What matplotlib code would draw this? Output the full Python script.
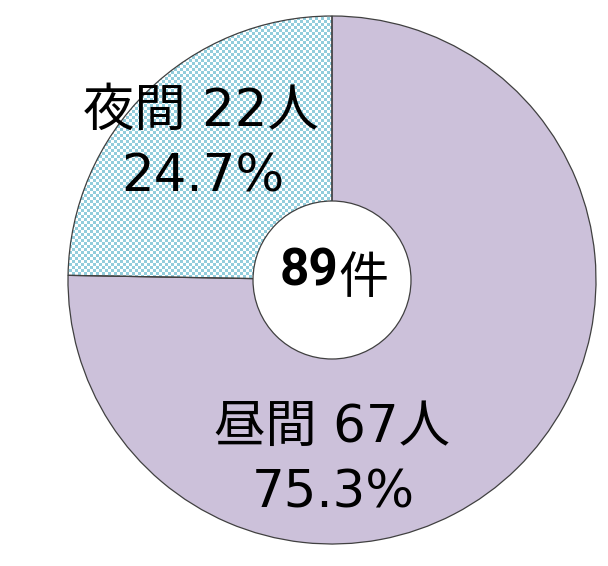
import numpy as np
import matplotlib
matplotlib.use('Agg')
import matplotlib.pyplot as plt

plt.rcParams['font.family'] = ['DejaVu Sans', 'Noto Sans CJK JP']

# data
names = ['昼間', '夜間']
counts = [67, 22]
total_label = '件'

lavender = '#CCC1DA'
check_blue = '#92CDDC'
edge = '#404040'

W, H = 608, 566
fig = plt.figure(figsize=(W / 100, H / 100), dpi=100)
ax = fig.add_axes([0, 0, 1, 1])

cx, cy = 332, H - 280
r_out, r_in = 264, 79

wedges, _ = ax.pie(counts, center=(cx, cy), radius=r_out, startangle=90,
                   counterclock=False, colors=[lavender, 'white'],
                   wedgeprops=dict(edgecolor=edge, linewidth=0.9),
                   frame=True)
ax.set_xlim(0, W)
ax.set_ylim(0, H)
ax.set_aspect('equal')
ax.axis('off')

# checker fill for the night slice
cell = 3
yy, xx = np.mgrid[0:H // cell + 1, 0:W // cell + 1]
checker = ((xx + yy) % 2).astype(float)
cmap = matplotlib.colors.ListedColormap(['white', check_blue])
im = ax.imshow(checker, cmap=cmap, extent=(0, (W // cell + 1) * cell, 0, (H // cell + 1) * cell),
               origin='lower', interpolation='nearest', zorder=1.5)
im.set_clip_path(wedges[1])
wedges[1].set_facecolor('none')
wedges[1].set_zorder(2)
wedges[0].set_zorder(2)

hole = plt.Circle((cx, cy), r_in, facecolor='white', edgecolor=edge, linewidth=0.9, zorder=3)
ax.add_patch(hole)

total = sum(counts)
pcts = [c / total * 100 for c in counts]

fs = 37
# night label (upper left)
ax.text(201, H - 112, f'{names[1]} {counts[1]}人', ha='center', va='center', fontsize=fs, zorder=4)
ax.text(203, H - 178, f'{pcts[1]:.1f}%', ha='center', va='center', fontsize=fs, zorder=4)
# day label (bottom)
ax.text(332, H - 428, f'{names[0]} {counts[0]}人', ha='center', va='center', fontsize=fs, zorder=4)
ax.text(333, H - 493, f'{pcts[0]:.1f}%', ha='center', va='center', fontsize=fs, zorder=4)

# center total
ax.text(338, H - 272, str(total), ha='right', va='center', fontsize=37, fontweight='bold',
        family=['Roboto', 'DejaVu Sans'], zorder=4)
ax.text(338, H - 279, total_label, ha='left', va='center', fontsize=36,
        family=['Noto Sans CJK JP'], zorder=4)

fig.savefig('out.png', dpi=100)
